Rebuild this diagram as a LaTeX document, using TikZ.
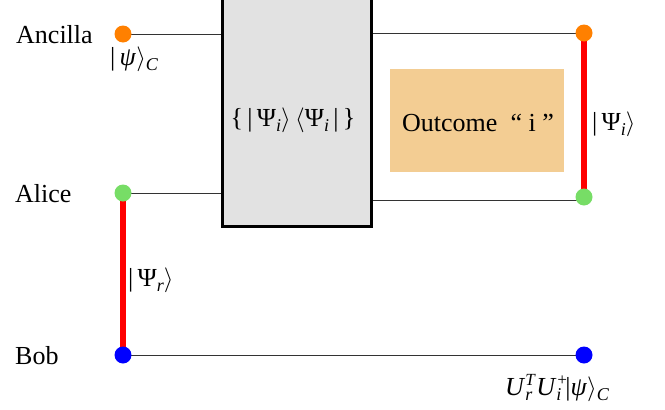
\documentclass[tikz,border=0pt]{standalone}
\usepackage{fontspec}
\setmainfont{Liberation Serif}
\definecolor{dotorange}{HTML}{FF8000}
\definecolor{dotgreen}{HTML}{77DD66}
\definecolor{dotblue}{HTML}{0000FF}
\definecolor{boxgray}{HTML}{E2E2E2}
\definecolor{outfill}{HTML}{F3CD93}
\definecolor{wire}{HTML}{333333}
\newcommand\Gup{Ψ}
\newcommand\gpsi{\textit{ψ}}
\newcommand\lo[1]{\raisebox{-5pt}{\fontsize{18}{20}\selectfont\itshape #1}}
\newcommand\hi[1]{\raisebox{10pt}{\fontsize{17}{20}\selectfont\itshape #1}}
\newcommand\rang{$\rangle$}
\newcommand\lang{$\langle$}
\begin{document}
\begin{tikzpicture}[x=1pt,y=-1pt,
  dot/.style={circle,inner sep=0pt,minimum size=16pt},
  wireline/.style={draw=wire,line width=1pt},
  ebit/.style={draw=red,line width=6pt},
  txt/.style={inner sep=0pt,font=\fontsize{26}{30}\selectfont}]
\useasboundingbox (0,0) rectangle (665,410);
\clip (0,0) rectangle (665,410);
% measurement box
\node[draw=black,line width=3pt,fill=boxgray,minimum width=149pt,minimum height=246pt,inner sep=0pt] (meas) at (296.5,103) {};
\node[txt] (proj) at (293,120) {\{\,|\,\Gup\lo{i}\rang\,\lang\Gup\lo{i}\,|\,\}};
% outcome box
\node[fill=outfill,minimum width=174pt,minimum height=103pt,inner sep=0pt] (out) at (477,120.5) {};
\node[txt,anchor=base] (outtxt) at (478,131) {Outcome~~“ i ”};
% coordinates
\coordinate (aliRline) at (584,200);
% dots positions
\node[dot] (ancL) at (123,34) {};
\node[dot] (aliL) at (123,193) {};
\node[dot] (bobL) at (123,355) {};
\node[dot] (ancR) at (584,33) {};
\node[dot] (aliR) at (584,197) {};
\node[dot] (bobR) at (584,355) {};
% wires
\draw[wireline] (ancL.center) -- (ancL.center -| meas.west);
\draw[wireline] (ancR.center -| meas.east) -- (ancR.center);
\draw[wireline] (aliL.center) -- (aliL.center -| meas.west);
\draw[wireline] (aliRline -| meas.east) -- (aliRline);
\draw[wireline] (bobL.center) -- (bobR.center);
% entanglement
\draw[ebit] (aliL.center) -- (bobL.center);
\draw[ebit] (ancR.center) -- (aliR.center);
% dots
\fill[dotorange] (ancL) circle (8.5);
\fill[dotgreen] (aliL) circle (8.5);
\fill[dotblue] (bobL) circle (8.5);
\fill[dotorange] (ancR) circle (8.5);
\fill[dotgreen] (aliR) circle (8.5);
\fill[dotblue] (bobR) circle (8.5);
% labels
\node[txt,anchor=base west] (lanc) at (16,43) {Ancilla};
\node[txt,anchor=base west] (lali) at (15,202) {Alice};
\node[txt,anchor=base west] (lbob) at (15,364) {Bob};
\node[txt,anchor=west] (psic) at (110,59) {|\,\gpsi\rang\lo{C}};
\node[txt,anchor=west] (psir) at (128,280) {|\,\Gup\lo{r}\rang};
\node[txt,anchor=west] (psii) at (592,124) {|\,\Gup\lo{i}\rang};
\node[txt,anchor=base] (final) at (557,395) {\textit{U}\rlap{\hi{T}}\lo{r}\kern4pt\textit{U}\rlap{\hi{+}}\lo{i}\kern4pt|\gpsi\rang\lo{C}};
\end{tikzpicture}
\end{document}
